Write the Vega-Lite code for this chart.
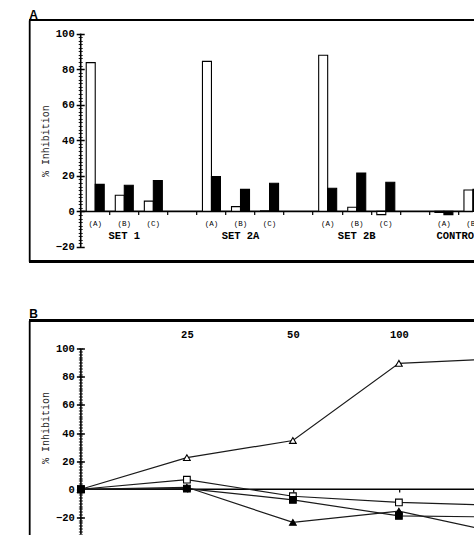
{
  "$schema": "https://vega.github.io/schema/vega-lite/v6.json",
  "background": "white",
  "padding": {"left": 28.2, "top": 8, "right": 0, "bottom": 0},
  "spacing": 44.5,
  "resolve": {"scale": {"fill": "independent", "shape": "independent"}},
  "config": {
    "view": {"stroke": null},
    "axis": {"grid": false, "labelFont": "Liberation Mono", "titleFont": "Liberation Mono", "labelColor": "black", "tickColor": "black", "domainColor": "black", "labelOverlap": false},
    "title": {"font": "Liberation Sans", "fontWeight": "bold", "fontSize": 12, "anchor": "start", "frame": "group", "baseline": "alphabetic", "color": "black"}
  },
  "vconcat": [
    {
      "title": {"text": "A", "offset": -2.5},
      "width": 445,
      "height": 241.3,
      "data": {"values": [
        {"slot": "SET 1 (A)", "series": "open", "value": 83.7},
        {"slot": "SET 1 (A)", "series": "filled", "value": 15.2},
        {"slot": "SET 1 (B)", "series": "open", "value": 9.1},
        {"slot": "SET 1 (B)", "series": "filled", "value": 14.7},
        {"slot": "SET 1 (C)", "series": "open", "value": 5.8},
        {"slot": "SET 1 (C)", "series": "filled", "value": 17.3},
        {"slot": "SET 2A (A)", "series": "open", "value": 84.4},
        {"slot": "SET 2A (A)", "series": "filled", "value": 19.6},
        {"slot": "SET 2A (B)", "series": "open", "value": 2.7},
        {"slot": "SET 2A (B)", "series": "filled", "value": 12.4},
        {"slot": "SET 2A (C)", "series": "open", "value": 0.3},
        {"slot": "SET 2A (C)", "series": "filled", "value": 15.8},
        {"slot": "SET 2B (A)", "series": "open", "value": 87.8},
        {"slot": "SET 2B (A)", "series": "filled", "value": 13.0},
        {"slot": "SET 2B (B)", "series": "open", "value": 2.3},
        {"slot": "SET 2B (B)", "series": "filled", "value": 21.6},
        {"slot": "SET 2B (C)", "series": "open", "value": -1.8},
        {"slot": "SET 2B (C)", "series": "filled", "value": 16.4},
        {"slot": "CONTROL (A)", "series": "open", "value": -0.6},
        {"slot": "CONTROL (A)", "series": "filled", "value": -1.8},
        {"slot": "CONTROL (B)", "series": "open", "value": 12.0},
        {"slot": "CONTROL (B)", "series": "filled", "value": 12.4}
      ]},
      "layer": [
        {
          "mark": {"type": "rule", "color": "black", "strokeWidth": 1.8},
          "encoding": {
            "y": {"datum": 107.65, "type": "quantitative", "axis": {"orient": "left", "offset": 0, "domain": true, "domainWidth": 1.8, "ticks": false, "labels": false, "title": null}}
          }
        },
        {
          "mark": {"type": "rule", "color": "black", "strokeWidth": 1.8},
          "encoding": {
            "y": {"datum": -28.07, "type": "quantitative", "axis": {"orient": "right", "offset": -393.5, "values": [-20,-18,-16,-14,-12,-10,-8,-6,-4,-2,0,2,4,6,8,10,12,14,16,18,20,22,24,26,28,30,32,34,36,38,40,42,44,46,48,50,52,54,56,58,60,62,64,66,68,70,72,74,76,78,80,82,84,86,88,90,92,94,96,98,100], "domain": false, "labels": false, "tickSize": 1.5, "tickWidth": 0.9, "title": null}}
          }
        },
        {
          "data": {"values": [{"at": "SET 1 (A)", "lo": -20, "hi": 100}]},
          "mark": {"type": "rule", "color": "black", "strokeWidth": 1.6},
          "encoding": {
            "x": {"field": "at", "type": "nominal", "bandPosition": 0, "axis": null},
            "y": {"field": "lo", "type": "quantitative", "axis": {"orient": "left", "offset": -51.5, "values": [-20,-18,-16,-14,-12,-10,-8,-6,-4,-2,0,2,4,6,8,10,12,14,16,18,20,22,24,26,28,30,32,34,36,38,40,42,44,46,48,50,52,54,56,58,60,62,64,66,68,70,72,74,76,78,80,82,84,86,88,90,92,94,96,98,100], "domain": false, "labels": false, "tickSize": 2.5, "tickWidth": 0.9, "title": null}},
            "y2": {"field": "hi"}
          }
        },
        {
          "data": {"values": [{"at": "SET 1 (A)", "end": "CONTROL (B)"}]},
          "mark": {"type": "rule", "color": "black", "strokeWidth": 1.6, "clip": true},
          "encoding": {
            "x": {"field": "at", "type": "nominal", "bandPosition": 0, "axis": null},
            "x2": {"field": "end"},
            "y": {"datum": 0, "type": "quantitative", "axis": {"orient": "right", "offset": -393.5, "values": [-20, 0, 20, 40, 60, 80, 100], "domain": false, "labels": false, "tickSize": 3.5, "tickWidth": 1.5, "title": null}}
          }
        },
        {
          "mark": {"type": "bar", "stroke": "black", "strokeWidth": 1.1, "clip": true},
          "encoding": {
            "x": {"field": "slot", "type": "nominal", "sort": null,
              "scale": {"domain": ["SET 1 (A)", "SET 1 (B)", "SET 1 (C)", "gap 1", "SET 2A (A)", "SET 2A (B)", "SET 2A (C)", "gap 2", "SET 2B (A)", "SET 2B (B)", "SET 2B (C)", "gap 3", "CONTROL (A)", "CONTROL (B)"], "range": [51.5, 458.3], "paddingInner": 0, "paddingOuter": 0},
              "axis": {"orient": "bottom", "offset": -49.9, "domain": false, "bandPosition": 0, "tickSize": 3, "tickWidth": 1.2, "labels": false, "title": null}},
            "xOffset": {"field": "series", "type": "nominal", "scale": {"domain": ["open", "filled"], "paddingInner": 0, "paddingOuter": 0.614}},
            "y": {"field": "value", "type": "quantitative", "scale": {"domain": [-28.07, 107.65], "nice": false, "zero": false},
              "axis": {"orient": "left", "offset": -51.5, "values": [-20, 0, 20, 40, 60, 80, 100], "domain": false, "tickSize": 4.5, "tickWidth": 1.5, "labelFontSize": 10.5, "labelFontWeight": "bold", "labelPadding": 2, "title": "% Inhibition", "titleFontSize": 10, "titleFontWeight": "normal", "titleColor": "#222", "titlePadding": 5}},
            "fill": {"field": "series", "type": "nominal", "scale": {"domain": ["open", "filled"], "range": ["white", "black"]}, "legend": null}
          }
        },
        {
          "data": {"values": [
            {"at": "SET 1 (A)", "label": "(A)"}, {"at": "SET 1 (B)", "label": "(B)"}, {"at": "SET 1 (C)", "label": "(C)"},
            {"at": "SET 2A (A)", "label": "(A)"}, {"at": "SET 2A (B)", "label": "(B)"}, {"at": "SET 2A (C)", "label": "(C)"},
            {"at": "SET 2B (A)", "label": "(A)"}, {"at": "SET 2B (B)", "label": "(B)"}, {"at": "SET 2B (C)", "label": "(C)"},
            {"at": "CONTROL (A)", "label": "(A)"}, {"at": "CONTROL (B)", "label": "(B)"}
          ]},
          "mark": {"type": "text", "font": "Liberation Mono", "fontSize": 7.5, "baseline": "middle", "color": "black", "clip": true},
          "encoding": {
            "x": {"field": "at", "type": "nominal", "axis": null},
            "y": {"datum": -7.25, "type": "quantitative", "axis": null},
            "text": {"field": "label"}
          }
        },
        {
          "data": {"values": [
            {"group": "SET 1", "at": "SET 1 (B)"},
            {"group": "SET 2A", "at": "SET 2A (B)"},
            {"group": "SET 2B", "at": "SET 2B (B)"}
          ]},
          "mark": {"type": "text", "font": "Liberation Mono", "fontWeight": "bold", "fontSize": 10.5, "baseline": "middle", "color": "black", "clip": true},
          "encoding": {
            "x": {"field": "at", "type": "nominal", "axis": null},
            "y": {"datum": -14, "type": "quantitative", "axis": null},
            "text": {"field": "group"}
          }
        },
        {
          "data": {"values": [{"group": "CONTROL", "at": "CONTROL (B)"}]},
          "mark": {"type": "text", "font": "Liberation Mono", "fontWeight": "bold", "fontSize": 10.5, "baseline": "middle", "color": "black", "clip": true},
          "encoding": {
            "x": {"field": "at", "type": "nominal", "bandPosition": 0, "axis": null},
            "y": {"datum": -14, "type": "quantitative", "axis": null},
            "text": {"field": "group"}
          }
        }
      ],
      "resolve": {"axis": {"x": "independent", "y": "independent"}}
    },
    {
      "title": {"text": "B", "offset": -1.5},
      "width": 445,
      "height": 214,
      "data": {"values": [
        {"series": "open triangle", "dose": 0, "value": 0},
        {"series": "open triangle", "dose": 25, "value": 22.5},
        {"series": "open triangle", "dose": 50, "value": 34.7},
        {"series": "open triangle", "dose": 100, "value": 89.6},
        {"series": "open triangle", "dose": 200, "value": 93},
        {"series": "open square", "dose": 0, "value": 0},
        {"series": "open square", "dose": 25, "value": 6.8},
        {"series": "open square", "dose": 50, "value": -5},
        {"series": "open square", "dose": 100, "value": -9.4},
        {"series": "open square", "dose": 200, "value": -11.5},
        {"series": "filled square", "dose": 0, "value": 0},
        {"series": "filled square", "dose": 25, "value": 0.5},
        {"series": "filled square", "dose": 50, "value": -7.5},
        {"series": "filled square", "dose": 100, "value": -19},
        {"series": "filled square", "dose": 200, "value": -19.8},
        {"series": "filled triangle", "dose": 0, "value": 0},
        {"series": "filled triangle", "dose": 25, "value": 1.4},
        {"series": "filled triangle", "dose": 50, "value": -23.6},
        {"series": "filled triangle", "dose": 100, "value": -15.6},
        {"series": "filled triangle", "dose": 200, "value": -31.8}
      ]},
      "layer": [
        {
          "mark": {"type": "rule", "color": "black", "strokeWidth": 1.8},
          "encoding": {
            "y": {"datum": 120.1, "type": "quantitative", "axis": {"orient": "left", "offset": 0, "domain": true, "domainWidth": 1.8, "ticks": false, "labels": false, "title": null}}
          }
        },
        {
          "data": {"values": [{"from": 0, "lo": -32.2, "hi": 100}]},
          "mark": {"type": "rule", "color": "black", "strokeWidth": 1.6},
          "encoding": {
            "x": {"field": "from", "type": "ordinal", "axis": {"orient": "bottom", "offset": -45.4, "values": [25, 50, 100], "domain": false, "labels": false, "tickSize": 3, "tickWidth": 1.2, "title": null}},
            "y": {"field": "lo", "type": "quantitative", "axis": {"orient": "left", "offset": -51.7, "values": [-32,-30,-28,-26,-24,-22,-20,-18,-16,-14,-12,-10,-8,-6,-4,-2,0,2,4,6,8,10,12,14,16,18,20,22,24,26,28,30,32,34,36,38,40,42,44,46,48,50,52,54,56,58,60,62,64,66,68,70,72,74,76,78,80,82,84,86,88,90,92,94,96,98,100], "domain": false, "labels": false, "tickSize": 2.5, "tickWidth": 0.9, "title": null}},
            "y2": {"field": "hi"}
          }
        },
        {
          "data": {"values": [{"from": 0, "to": 200}]},
          "mark": {"type": "rule", "color": "black", "strokeWidth": 1.6, "clip": true},
          "encoding": {
            "x": {"field": "from", "type": "ordinal", "axis": null},
            "x2": {"field": "to"},
            "y": {"datum": 0, "type": "quantitative", "axis": {"orient": "right", "offset": -393.3, "values": [-32,-30,-28,-26,-24,-22,-20,-18,-16,-14,-12,-10,-8,-6,-4,-2,0,2,4,6,8,10,12,14,16,18,20,22,24,26,28,30,32,34,36,38,40,42,44,46,48,50,52,54,56,58,60,62,64,66,68,70,72,74,76,78,80,82,84,86,88,90,92,94,96,98,100], "domain": false, "labels": false, "tickSize": 1.5, "tickWidth": 0.9, "title": null}}
          }
        },
        {
          "mark": {"type": "line", "color": "#1a1a1a", "strokeWidth": 1.2, "clip": true},
          "encoding": {
            "x": {"field": "dose", "type": "ordinal", "scale": {"type": "point", "domain": [0, 25, 50, 100, 200], "range": [51.7, 475.7], "padding": 0},
              "axis": {"orient": "top", "offset": -20, "values": [25, 50, 100], "domain": false, "ticks": false, "tickSize": 0, "labelAngle": 0, "labelFontSize": 10.5, "labelFontWeight": "bold", "labelPadding": 1, "title": null}},
            "y": {"field": "value", "type": "quantitative", "scale": {"domain": [-32.2, 120.1], "nice": false, "zero": false},
              "axis": {"orient": "left", "offset": -51.7, "values": [-20, 0, 20, 40, 60, 80, 100], "domain": false, "tickSize": 4.5, "tickWidth": 1.5, "labelFontSize": 10.5, "labelFontWeight": "bold", "labelPadding": 2, "title": "% Inhibition", "titleFontSize": 10, "titleFontWeight": "normal", "titleColor": "#222", "titlePadding": 5}},
            "detail": {"field": "series"}
          }
        },
        {
          "mark": {"type": "point", "stroke": "black", "strokeWidth": 1.1, "size": 45, "opacity": 1, "fillOpacity": 1, "clip": true},
          "encoding": {
            "x": {"field": "dose", "type": "ordinal", "axis": null},
            "y": {"field": "value", "type": "quantitative", "axis": {"orient": "right", "offset": -393.3, "values": [-20, 0, 20, 40, 60, 80, 100], "domain": false, "labels": false, "tickSize": 3.5, "tickWidth": 1.5, "title": null}},
            "shape": {"field": "series", "type": "nominal", "scale": {"domain": ["open triangle", "open square", "filled square", "filled triangle"], "range": ["triangle-up", "square", "square", "triangle-up"]}, "legend": null},
            "fill": {"field": "series", "type": "nominal", "scale": {"domain": ["open triangle", "open square", "filled square", "filled triangle"], "range": ["white", "white", "black", "black"]}, "legend": null}
          }
        }
      ],
      "resolve": {"axis": {"x": "independent", "y": "independent"}}
    }
  ]
}
